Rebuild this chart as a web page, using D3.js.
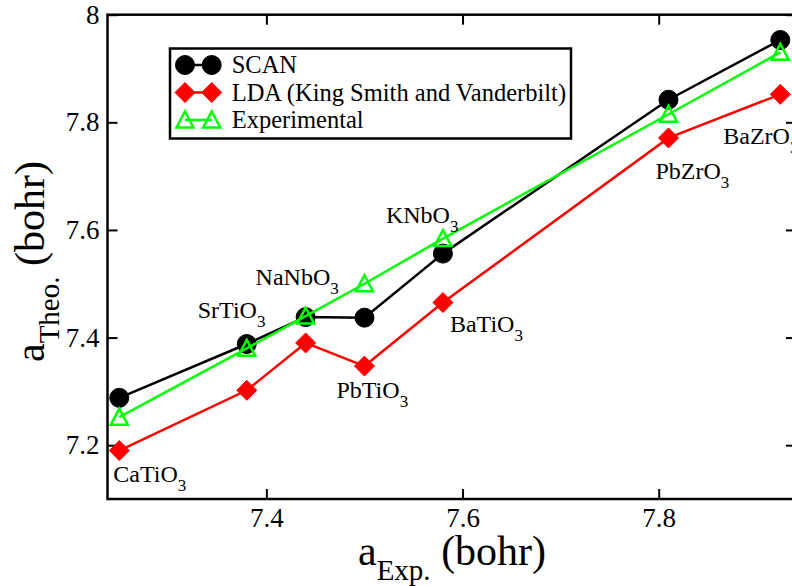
<!DOCTYPE html>
<html>
<head>
<meta charset="utf-8">
<script src="https://cdn.jsdelivr.net/npm/d3@7"></script>
<style>
  body { margin: 0; background: #fff; }
  svg text { font-family: "Liberation Serif", "Times New Roman", serif; fill: #000; }
</style>
</head>
<body>
<div id="chart"></div>
<script>
// DATA (lattice parameters, bohr)
var compounds = ["CaTiO", "SrTiO", "NaNbO", "PbTiO", "BaTiO", "KNbO", "PbZrO", "BaZrO"];
var xExp   = [7.25, 7.38, 7.44, 7.50, 7.58, 7.81, 7.924];
var scanY  = [7.288, 7.388, 7.438, 7.437, 7.556, 7.842, 7.953];
var ldaY   = [7.19, 7.302, 7.39, 7.347, 7.465, 7.771, 7.852];
var expY   = [7.252, 7.38, 7.44, 7.50, 7.584, 7.815, 7.93];
// which point each compound label belongs to (index into xExp)
var labelPoint = [0, 1, 2, 3, 4, 4, 5, 6];
var xTicks = [7.4, 7.6, 7.8];
var yTicks = [7.2, 7.4, 7.6, 7.8, 8];
var legendNames = ["SCAN", "LDA (King Smith and Vanderbilt)", "Experimental"];

// label offsets (px) from the LDA point
var labelOffset = [[-6, 31], [-49, -72], [-50, -58], [-28, 32], [7, 29], [-57, -80], [-13, 41], [-57, 50]];

var W = 792, H = 586;
var pLeft = 107.5, pRight = 796, pTop = 14.7, pBottom = 499;
var serif = "'Liberation Serif', 'Times New Roman', serif";

var svg = d3.select("#chart").append("svg")
    .attr("width", W)
    .attr("height", H);

var x = d3.scaleLinear().domain([7.238, 7.94]).range([pLeft, pRight]);
var y = d3.scaleLinear().domain([7.1, 8]).range([pBottom, pTop]);

var fmt = function(d){ return String(+d.toFixed(1)); };

// axes, ticks pointing inward
function styleAxis(g){
  g.attr("font-family", serif);
  g.select(".domain").remove();
  g.selectAll("line").attr("stroke", "#000").attr("stroke-width", 2);
  g.selectAll("text").style("font-size", "27px").style("font-family", serif);
}

svg.append("g")
   .attr("transform", "translate(0," + pBottom + ")")
   .call(d3.axisBottom(x).tickValues(xTicks).tickSize(-10).tickPadding(9).tickFormat(fmt))
   .call(styleAxis);
svg.append("g")
   .attr("transform", "translate(0," + pTop + ")")
   .call(d3.axisTop(x).tickValues(xTicks).tickSize(-10).tickFormat(""))
   .call(styleAxis);
svg.append("g")
   .attr("transform", "translate(" + pLeft + ",0)")
   .call(d3.axisLeft(y).tickValues(yTicks).tickSize(-10).tickPadding(8).tickFormat(fmt))
   .call(styleAxis);
svg.append("g")
   .attr("transform", "translate(" + pRight + ",0)")
   .call(d3.axisRight(y).tickValues(yTicks).tickSize(-10).tickFormat(""))
   .call(styleAxis);

svg.append("rect")
   .attr("x", pLeft).attr("y", pTop)
   .attr("width", pRight - pLeft).attr("height", pBottom - pTop)
   .attr("fill", "none").attr("stroke", "#000").attr("stroke-width", 2.5);

// series
var line = d3.line().x(function(d){ return x(d[0]); }).y(function(d){ return y(d[1]); });

function drawSeries(vals, color, symbol, filled){
  var pts = xExp.map(function(v, i){ return [v, vals[i]]; });
  svg.append("path")
     .datum(pts)
     .attr("d", line)
     .attr("fill", "none")
     .attr("stroke", color)
     .attr("stroke-width", 2.5);
  svg.selectAll(null)
     .data(pts)
     .enter().append("path")
       .attr("d", symbol)
       .attr("transform", function(d){ return "translate(" + x(d[0]) + "," + y(d[1]) + ")"; })
       .attr("fill", filled ? color : "none")
       .attr("stroke", color)
       .attr("stroke-width", filled ? 1 : 2.5);
}

var circleSym = d3.symbol().type(d3.symbolCircle).size(Math.PI * 9.5 * 9.5)();
var diamondSym = "M0,-10L10,0L0,10L-10,0Z";
var triSym = "M0,-8.5L8.5,7.5L-8.5,7.5Z";

drawSeries(scanY, "#000", circleSym, true);
drawSeries(ldaY, "#ff0000", diamondSym, true);
drawSeries(expY, "#00ff00", triSym, false);

// compound labels
compounds.forEach(function(c, i){
  var p = labelPoint[i];
  var t = svg.append("text")
     .attr("x", x(xExp[p]) + labelOffset[i][0])
     .attr("y", y(ldaY[p]) + labelOffset[i][1])
     .style("font-size", "24px");
  t.append("tspan").text(c);
  t.append("tspan").attr("dy", 9).style("font-size", "17px").text("3");
});

// legend
var lg = svg.append("g").attr("transform", "translate(170,48.5)");
lg.append("rect")
  .attr("width", 401).attr("height", 90)
  .attr("fill", "#fff").attr("stroke", "#000").attr("stroke-width", 2.5);
var legendColors = ["#000", "#ff0000", "#00ff00"];
var legendSyms = [circleSym, diamondSym, triSym];
legendNames.forEach(function(name, i){
  var yy = 16.5 + i * 27.5;
  lg.append("line").attr("x1", 15).attr("x2", 41.7).attr("y1", yy).attr("y2", yy)
    .attr("stroke", legendColors[i]).attr("stroke-width", 2.5);
  [15, 41.7].forEach(function(xx){
    lg.append("path").attr("d", legendSyms[i])
      .attr("transform", "translate(" + xx + "," + yy + ")")
      .attr("fill", i == 2 ? "none" : legendColors[i])
      .attr("stroke", legendColors[i])
      .attr("stroke-width", i == 2 ? 2.5 : 1);
  });
  lg.append("text").attr("x", 61.7).attr("y", yy + 8)
    .style("font-size", "24.5px").text(name);
});

// axis titles
var xt = svg.append("text").attr("x", 358).attr("y", 565).style("font-size", "42px");
xt.append("tspan").text("a");
xt.append("tspan").attr("dy", 15).style("font-size", "29px").text("Exp.");
xt.append("tspan").attr("dy", -15).text(" (bohr)");

var yt = svg.append("text")
   .attr("transform", "translate(44,362) rotate(-90)")
   .style("font-size", "42px");
yt.append("tspan").text("a");
yt.append("tspan").attr("dy", 15).style("font-size", "29px").text("Theo.");
yt.append("tspan").attr("dy", -15).text(" (bohr)");
</script>
</body>
</html>
